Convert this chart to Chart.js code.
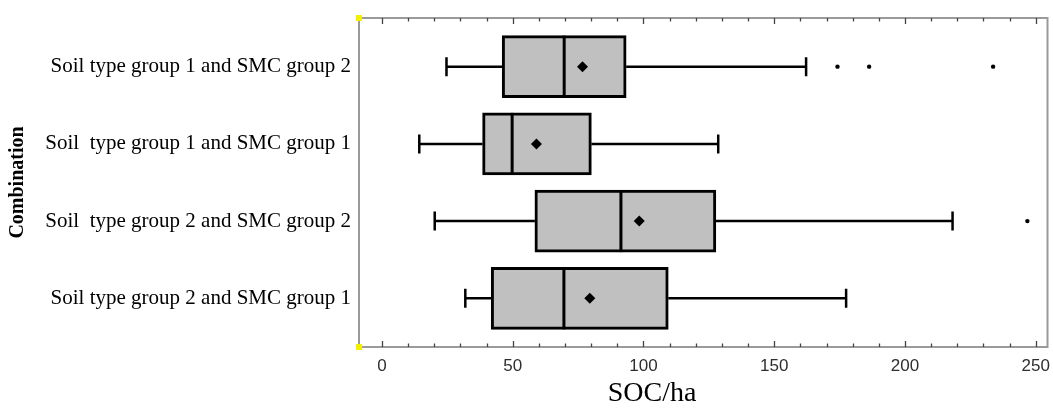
<!DOCTYPE html>
<html>
<head>
<meta charset="utf-8">
<script src="https://cdn.jsdelivr.net/npm/chart.js@4.4.1/dist/chart.umd.min.js"></script>
<style>
  html, body { margin: 0; padding: 0; background: #fff; }
  #wrap { width: 1053px; height: 411px; }
</style>
</head>
<body>
<div id="wrap"><canvas id="boxChart"></canvas></div>
<script>
// box plot of SOC/ha per combination, top row first
const categories = [
    'Soil type group 1 and SMC group 2',
    'Soil  type group 1 and SMC group 1',
    'Soil  type group 2 and SMC group 2',
    'Soil type group 2 and SMC group 1'
];
const whiskerLow  = [24.7, 14.3, 20.2, 31.9];
const q1          = [46.0, 38.5, 58.5, 41.8];
const median      = [69.7, 49.8, 91.4, 69.6];
const q3          = [93.4, 80.1, 127.7, 109.5];
const whiskerHigh = [162.2, 128.6, 218.2, 177.5];
const means       = [76.7, 59.1, 98.4, 79.5];
// [row, value]
const outliers = [[0, 174.2], [0, 186.3], [0, 233.7], [2, 246.8]];
const xTicks = [0, 50, 100, 150, 200, 250];

const boxHeight = 62;

// whiskers, caps, medians, frame and tick marks
const boxExtras = {
    id: 'boxExtras',
    afterDatasetsDraw(chart) {
        const ctx = chart.ctx;
        const x = chart.scales.x, y = chart.scales.y;
        ctx.save();
        ctx.strokeStyle = '#000';
        ctx.lineCap = 'butt';
        categories.forEach((c, i) => {
            const py = y.getPixelForValue(i + 1);
            ctx.lineWidth = 2.5;
            ctx.beginPath();
            ctx.moveTo(x.getPixelForValue(whiskerLow[i]), py);
            ctx.lineTo(x.getPixelForValue(q1[i]), py);
            ctx.moveTo(x.getPixelForValue(q3[i]), py);
            ctx.lineTo(x.getPixelForValue(whiskerHigh[i]), py);
            // caps
            [whiskerLow[i], whiskerHigh[i]].forEach(v => {
                const px = x.getPixelForValue(v);
                ctx.moveTo(px, py - 9.5);
                ctx.lineTo(px, py + 9.5);
            });
            ctx.stroke();
            // median
            ctx.lineWidth = 3;
            ctx.beginPath();
            const pm = x.getPixelForValue(median[i]);
            ctx.moveTo(pm, py - boxHeight / 2);
            ctx.lineTo(pm, py + boxHeight / 2);
            ctx.stroke();
        });
        ctx.restore();
    },
    afterDraw(chart) {
        const ctx = chart.ctx;
        const x = chart.scales.x;
        const a = chart.chartArea;
        ctx.save();
        ctx.strokeStyle = '#9a9a9a';
        ctx.lineWidth = 2;
        ctx.strokeRect(a.left, a.top, a.right - a.left, a.bottom - a.top);
        // tick marks top and bottom, pointing in
        ctx.strokeStyle = '#444';
        ctx.lineWidth = 1.3;
        ctx.beginPath();
        for (let v = 0; v <= 250; v += 10) {
            const px = Math.round(x.getPixelForValue(v)) + 0.5;
            const len = v % 50 === 0 ? 6 : 3.5;
            ctx.moveTo(px, a.bottom);
            ctx.lineTo(px, a.bottom - len);
            ctx.moveTo(px, a.top);
            ctx.lineTo(px, a.top + len);
        }
        ctx.stroke();
        // yellow corner handles
        ctx.fillStyle = '#f5f000';
        ctx.fillRect(a.left - 3, a.top - 3, 6, 6);
        ctx.fillRect(a.left - 3, a.bottom - 3, 6, 6);
        // x axis title
        ctx.fillStyle = '#000';
        ctx.font = '28px "Liberation Serif", "Times New Roman", serif';
        ctx.textAlign = 'center';
        ctx.textBaseline = 'middle';
        ctx.fillText('SOC/ha', 652, 394);
        ctx.restore();
    }
};

new Chart(document.getElementById('boxChart'), {
    type: 'bar',
    data: {
        datasets: [
            {
                type: 'bar',
                label: 'box',
                data: categories.map((c, i) => ({ x: [q1[i], q3[i]], y: i + 1 })),
                backgroundColor: '#c0c0c0',
                borderColor: '#000',
                borderWidth: 3,
                borderSkipped: false,
                barThickness: boxHeight,
                order: 2
            },
            {
                type: 'scatter',
                label: 'mean',
                data: categories.map((c, i) => ({ x: means[i], y: i + 1 })),
                pointStyle: 'rectRot',
                pointRadius: 5.5,
                backgroundColor: '#000',
                borderColor: '#000',
                borderWidth: 0,
                order: 1
            },
            {
                type: 'scatter',
                label: 'outliers',
                data: outliers.map(o => ({ x: o[1], y: o[0] + 1 })),
                pointStyle: 'circle',
                pointRadius: 2.2,
                backgroundColor: '#000',
                borderWidth: 0,
                order: 1
            }
        ]
    },
    options: {
        indexAxis: 'y',
        responsive: true,
        maintainAspectRatio: false,
        animation: false,
        layout: { padding: { left: 0, right: 2, top: 18, bottom: 0 } },
        plugins: {
            legend: { display: false },
            tooltip: { enabled: false }
        },
        scales: {
            x: {
                type: 'linear',
                min: -8.75,
                max: 254.5,
                afterBuildTicks: s => { s.ticks = xTicks.map(v => ({ value: v })); },
                afterFit: s => { s.height = 64; s.paddingLeft = 0; s.paddingRight = 0; },
                grid: { display: false, drawTicks: false },
                border: { display: false },
                ticks: {
                    padding: 9,
                    color: '#2e2e2e',
                    maxRotation: 0,
                    font: { family: '"Liberation Sans", Arial, sans-serif', size: 17 }
                }
            },
            y: {
                type: 'linear',
                reverse: true,
                offset: false,
                min: 0.37,
                max: 4.63,
                afterBuildTicks: s => { s.ticks = categories.map((c, i) => ({ value: i + 1 })); },
                afterFit: s => { s.width = 359; s.paddingTop = 0; s.paddingBottom = 0; },
                grid: { display: false, drawTicks: false },
                border: { display: false },
                ticks: {
                    padding: 8,
                    color: '#000',
                    font: { family: '"Liberation Serif", "Times New Roman", serif', size: 21 },
                    callback: v => categories[v - 1]
                },
                title: {
                    display: true,
                    text: 'Combination',
                    color: '#000',
                    padding: { top: 6, bottom: 0 },
                    font: { family: '"Liberation Serif", "Times New Roman", serif', size: 20, weight: 'bold' }
                }
            }
        }
    },
    plugins: [boxExtras]
});
</script>
</body>
</html>
